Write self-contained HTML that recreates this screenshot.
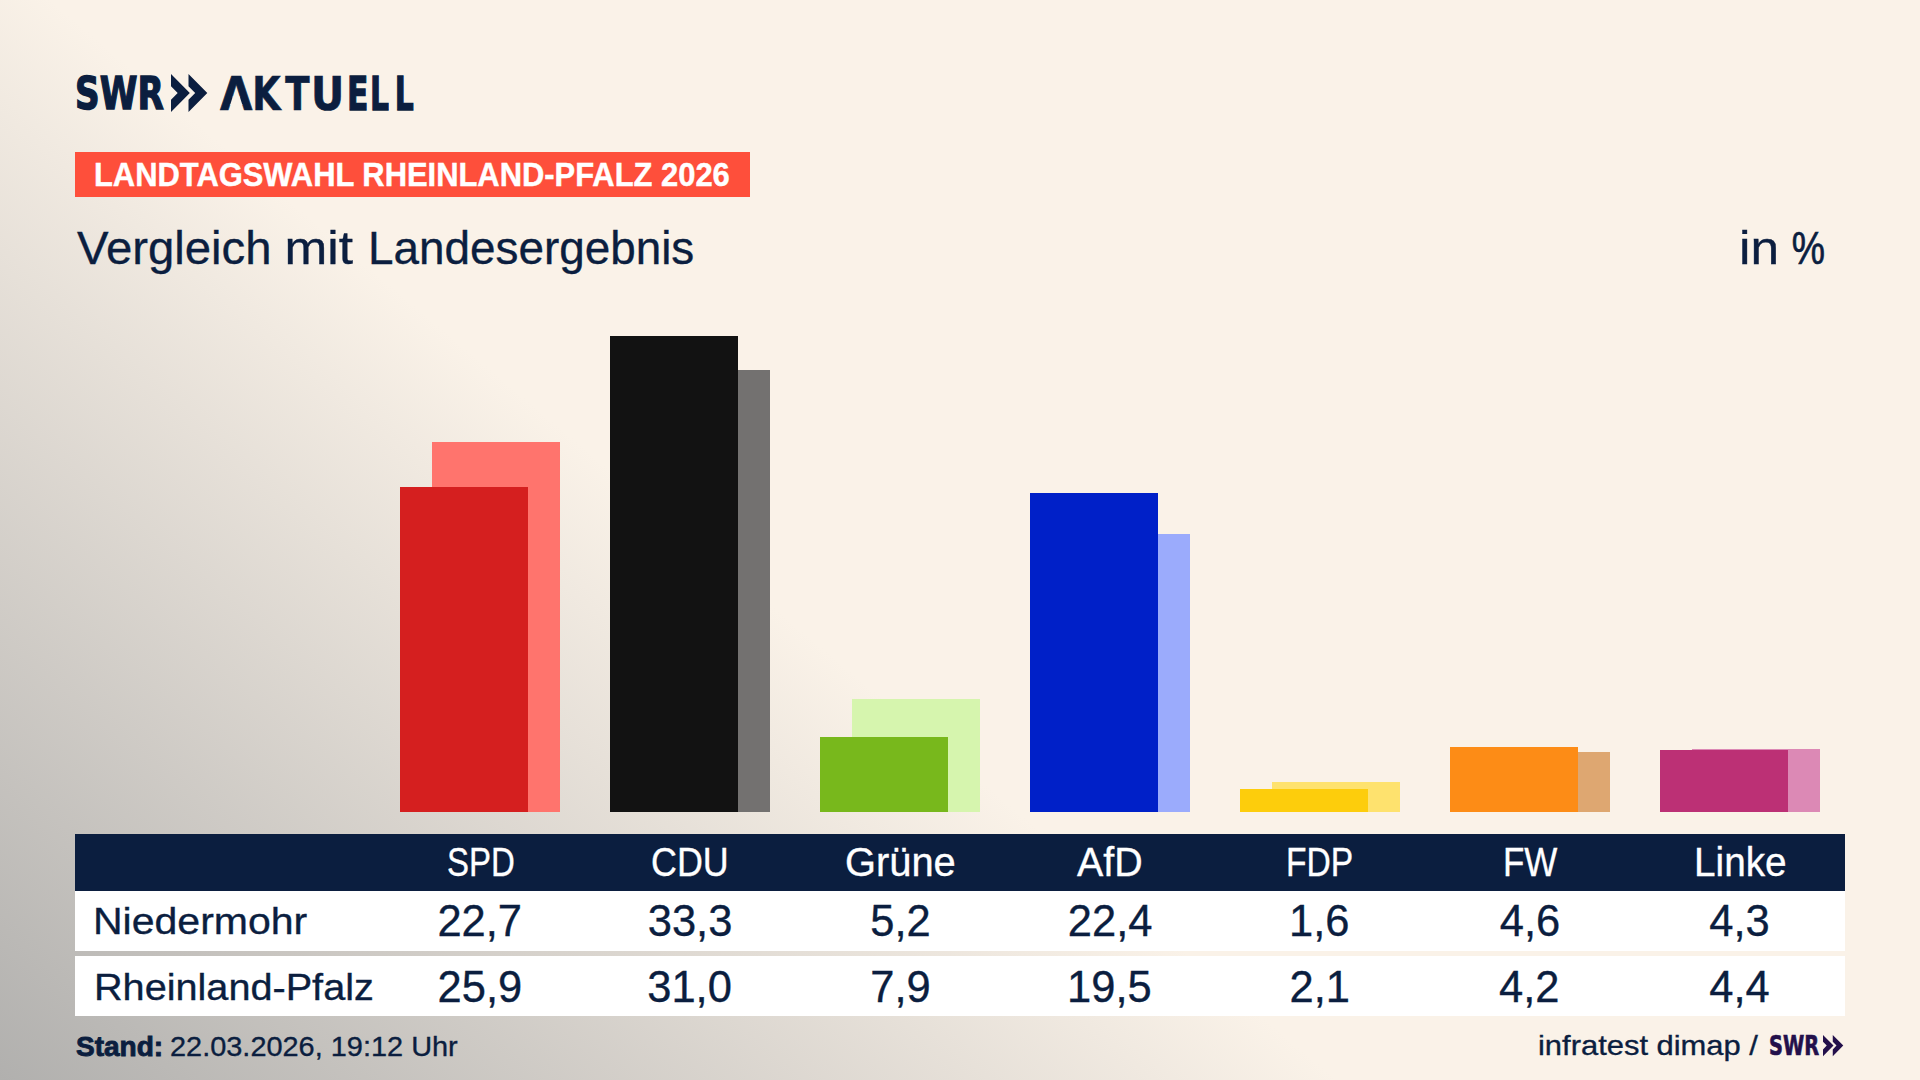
<!DOCTYPE html>
<html lang="de">
<head>
<meta charset="utf-8">
<title>Landtagswahl Rheinland-Pfalz 2026 – Vergleich mit Landesergebnis</title>
<style>
html,body{margin:0;padding:0;}
body{width:1920px;height:1080px;overflow:hidden;position:relative;background:#faf2e8;font-family:"Liberation Sans",sans-serif;color:#0b1e3f;}
#bg,#amask{position:absolute;left:0;top:0;width:1920px;height:1080px;
 background:linear-gradient(40deg,#b1b0ae 0%,#faf2e8 41.7%);}
.tx{position:absolute;white-space:nowrap;line-height:1;transform-origin:0 0;}
.bar{position:absolute;width:128px;}
#tag{position:absolute;left:75px;top:152px;width:675px;height:44.5px;background:#fe4f3b;}
#thead{position:absolute;left:75px;top:834px;width:1770px;height:57px;background:#0b1e3f;}
.row{position:absolute;left:75px;width:1770px;height:60px;background:#fff;}
#logo2{left:220.30px;top:71.60px;font-size:0;font-weight:bold;font-family:"DejaVu Sans","Liberation Sans",sans-serif;color:#0b1e3f;transform:scaleX(0.9200);}
#logo2a{display:inline-block;white-space:nowrap;line-height:1;font-size:45.50px;width:35.450px;}
#lk{display:inline-block;white-space:nowrap;line-height:1;font-size:45.50px;width:36.061px;transform-origin:0 0;transform:scaleX(0.8705);}
#lt{display:inline-block;white-space:nowrap;line-height:1;font-size:45.50px;width:27.663px;transform-origin:0 0;transform:scaleX(0.8502);}
#lu{display:inline-block;white-space:nowrap;line-height:1;font-size:45.50px;width:39.171px;transform-origin:0 0;transform:scaleX(0.9783);}
#le{display:inline-block;white-space:nowrap;line-height:1;font-size:45.50px;width:25.127px;transform-origin:0 0;transform:scaleX(0.7492);}
#ll1{display:inline-block;white-space:nowrap;line-height:1;font-size:45.50px;width:26.441px;transform-origin:0 0;transform:scaleX(0.7134);}
#ll2{display:inline-block;white-space:nowrap;line-height:1;font-size:45.50px;transform-origin:0 0;transform:scaleX(0.7134);}
#title{left:77.00px;top:225.51px;font-size:0;color:#0b1e3f;transform:scaleX(1.0323);}
#t1{display:inline-block;white-space:nowrap;line-height:1;font-size:45.80px;width:201.151px;}
#t2{display:inline-block;white-space:nowrap;line-height:1;font-size:45.80px;width:80.708px;transform-origin:0 0;transform:scaleX(1.0859);}
#t3{display:inline-block;white-space:nowrap;line-height:1;font-size:45.80px;transform-origin:0 0;transform:scaleX(0.9694);}
#unit{left:1739.31px;top:225.81px;font-size:0;color:#0b1e3f;transform:scaleX(1.1217);}
#u1{display:inline-block;white-space:nowrap;line-height:1;font-size:45.80px;width:47.217px;}
#u2{display:inline-block;white-space:nowrap;line-height:1;font-size:45.80px;transform-origin:0 0;transform:scaleX(0.7266);}
#logo1{left:75.46px;top:72.41px;font-size:44.30px;font-weight:bold;font-family:"DejaVu Sans","Liberation Sans",sans-serif;color:#0b1e3f;transform:scaleX(0.7726);}
#tagtxt{left:93.57px;top:156.91px;font-size:34.00px;font-weight:bold;color:#fff;transform:scaleX(0.9088);}
#h1{left:446.52px;top:841.76px;font-size:40.00px;color:#fff;transform:scaleX(0.8238);}
#h2{left:651.19px;top:841.76px;font-size:40.00px;color:#fff;transform:scaleX(0.8967);}
#h3{left:845.19px;top:841.76px;font-size:40.00px;color:#fff;transform:scaleX(0.9959);}
#h4{left:1077.20px;top:841.76px;font-size:40.00px;color:#fff;transform:scaleX(0.9846);}
#h5{left:1286.23px;top:841.76px;font-size:40.00px;color:#fff;transform:scaleX(0.8402);}
#h6{left:1502.56px;top:841.76px;font-size:40.00px;color:#fff;transform:scaleX(0.8748);}
#h7{left:1693.68px;top:841.76px;font-size:40.00px;color:#fff;transform:scaleX(0.9681);}
#n1{left:93.32px;top:903.26px;font-size:37.10px;color:#0b1e3f;transform:scaleX(1.1061);}
#n2{left:94.24px;top:968.51px;font-size:37.10px;color:#0b1e3f;transform:scaleX(1.0689);}
#stand{left:75.80px;top:1032.71px;font-size:28.00px;font-weight:bold;color:#0b1e3f;transform:scaleX(1.0007);}
#date{left:169.55px;top:1032.71px;font-size:28.00px;color:#0b1e3f;transform:scaleX(1.0325);}
#src{left:1538.16px;top:1031.40px;font-size:28.50px;color:#0b1e3f;transform:scaleX(1.0847);}
#swr2{left:1768.90px;top:1031.75px;font-size:27.00px;font-weight:bold;font-family:"DejaVu Sans","Liberation Sans",sans-serif;color:#23104b;transform:scaleX(0.7154);}
#a1{left:437.38px;top:899.71px;font-size:43.50px;color:#0b1e3f;transform:scaleX(1.0000);}
#a2{left:647.70px;top:899.71px;font-size:43.50px;color:#0b1e3f;transform:scaleX(1.0000);}
#a3{left:870.20px;top:899.71px;font-size:43.50px;color:#0b1e3f;transform:scaleX(1.0000);}
#a4{left:1067.75px;top:899.71px;font-size:43.50px;color:#0b1e3f;transform:scaleX(1.0000);}
#a5{left:1289.10px;top:899.71px;font-size:43.50px;color:#0b1e3f;transform:scaleX(1.0000);}
#a6{left:1499.80px;top:899.71px;font-size:43.50px;color:#0b1e3f;transform:scaleX(1.0000);}
#a7{left:1709.30px;top:899.71px;font-size:43.50px;color:#0b1e3f;transform:scaleX(1.0000);}
#b1{left:437.50px;top:965.50px;font-size:43.50px;color:#0b1e3f;transform:scaleX(1.0000);}
#b2{left:647.20px;top:965.50px;font-size:43.50px;color:#0b1e3f;transform:scaleX(1.0000);}
#b3{left:870.30px;top:965.50px;font-size:43.50px;color:#0b1e3f;transform:scaleX(1.0000);}
#b4{left:1067.05px;top:965.50px;font-size:43.50px;color:#0b1e3f;transform:scaleX(1.0000);}
#b5{left:1289.45px;top:965.50px;font-size:43.50px;color:#0b1e3f;transform:scaleX(1.0000);}
#b6{left:1499.05px;top:965.50px;font-size:43.50px;color:#0b1e3f;transform:scaleX(1.0000);}
#b7{left:1709.30px;top:965.50px;font-size:43.50px;color:#0b1e3f;transform:scaleX(1.0000);}
.tx{-webkit-text-stroke:0.35px currentColor;}
#chev{position:absolute;left:171.2px;top:73.7px;}
#chev2{position:absolute;left:1823.25px;top:1034.5px;}
#logo1{-webkit-text-stroke:1.4px #0b1e3f;}
#logo2 span{-webkit-text-stroke:0.7px #0b1e3f;}
#swr2{-webkit-text-stroke:0.7px #23104b;}
#stand{-webkit-text-stroke:0.9px #0b1e3f;}
#amask{clip-path:polygon(232.75px 96.5px,239.75px 96.5px,242.4px 105px,230.1px 105px);}
#tagtxt{-webkit-text-stroke:0.45px #fff;}
#u2{-webkit-text-stroke:0.7px currentColor;}
#logo2 #le,#logo2 #ll1,#logo2 #ll2{-webkit-text-stroke:1.3px #0b1e3f;}
#le,#ll1,#ll2{-webkit-text-stroke:1.3px #0b1e3f;}

</style>
</head>
<body>
<div id="bg"></div>
<div id="brand">
<span class="tx" id="logo1">SWR</span>
<svg id="chev" width="40" height="40" viewBox="0 0 40 40"><path fill="#0b1e3f" d="M0 0 L18.8 19 L0 38 L0 25.8 L6.7 19 L0 12.2 Z M17.5 0 L36.3 19 L17.5 38 L17.5 25.8 L24.2 19 L17.5 12.2 Z"/></svg>
<span id="logo2" class="tx"><span id="logo2a">A</span><span id="lk">K</span><span id="lt">T</span><span id="lu">U</span><span id="le">E</span><span id="ll1">L</span><span id="ll2">L</span></span>
<div id="amask"></div>
</div>
<div id="tagline"><div id="tag"></div><span class="tx" id="tagtxt">LANDTAGSWAHL RHEINLAND-PFALZ 2026</span></div>
<div id="title" class="tx"><span id="t1">Vergleich</span> <span id="t2">mit</span> <span id="t3">Landesergebnis</span></div>
<div id="unit" class="tx"><span id="u1">in</span> <span id="u2">%</span></div>
<div id="chart">
<div class="bar" style="left:432px;top:442px;height:370px;background:#ff746d"></div>
<div class="bar" style="left:400px;top:487px;height:325px;background:#d51f1f"></div>
<div class="bar" style="left:642px;top:370px;height:442px;background:#737170"></div>
<div class="bar" style="left:610px;top:336px;height:476px;background:#121212"></div>
<div class="bar" style="left:852px;top:699px;height:113px;background:#d6f5ae"></div>
<div class="bar" style="left:820px;top:737px;height:75px;background:#78b81c"></div>
<div class="bar" style="left:1062px;top:534px;height:278px;background:#9babfc"></div>
<div class="bar" style="left:1030px;top:493px;height:319px;background:#0020c8"></div>
<div class="bar" style="left:1272px;top:782px;height:30px;background:#fee26e"></div>
<div class="bar" style="left:1240px;top:789px;height:23px;background:#fdcd0c"></div>
<div class="bar" style="left:1482px;top:752px;height:60px;background:#dea771"></div>
<div class="bar" style="left:1450px;top:747px;height:65px;background:#fd8c16"></div>
<div class="bar" style="left:1692px;top:749px;height:63px;background:#dc89b5"></div>
<div class="bar" style="left:1660px;top:750px;height:62px;background:#bc3075"></div>
</div>
<div id="table">
<div class="trow"><div id="thead"></div><span class="tx" id="h1">SPD</span> <span class="tx" id="h2">CDU</span> <span class="tx" id="h3">Grüne</span> <span class="tx" id="h4">AfD</span> <span class="tx" id="h5">FDP</span> <span class="tx" id="h6">FW</span> <span class="tx" id="h7">Linke</span></div>
<div class="trow"><div class="row" style="top:891px"></div><span class="tx" id="n1">Niedermohr</span> <span class="tx" id="a1">22,7</span> <span class="tx" id="a2">33,3</span> <span class="tx" id="a3">5,2</span> <span class="tx" id="a4">22,4</span> <span class="tx" id="a5">1,6</span> <span class="tx" id="a6">4,6</span> <span class="tx" id="a7">4,3</span></div>
<div class="trow"><div class="row" style="top:956px"></div><span class="tx" id="n2">Rheinland-Pfalz</span> <span class="tx" id="b1">25,9</span> <span class="tx" id="b2">31,0</span> <span class="tx" id="b3">7,9</span> <span class="tx" id="b4">19,5</span> <span class="tx" id="b5">2,1</span> <span class="tx" id="b6">4,2</span> <span class="tx" id="b7">4,4</span></div>
</div>
<div id="footer">
<div id="standline"><span class="tx" id="stand"><b>Stand:</b></span> <span class="tx" id="date">22.03.2026, 19:12 Uhr</span></div>
<div id="source"><span class="tx" id="src">infratest dimap /</span> <span class="tx" id="swr2">SWR</span><svg id="chev2" width="22" height="22" viewBox="0 0 39.4 39.4"><path fill="#23104b" d="M0 0 L18.8 19 L0 38 L0 25.8 L6.7 19 L0 12.2 Z M17.5 0 L36.3 19 L17.5 38 L17.5 25.8 L24.2 19 L17.5 12.2 Z"/></svg></div>
</div>

</body>
</html>
